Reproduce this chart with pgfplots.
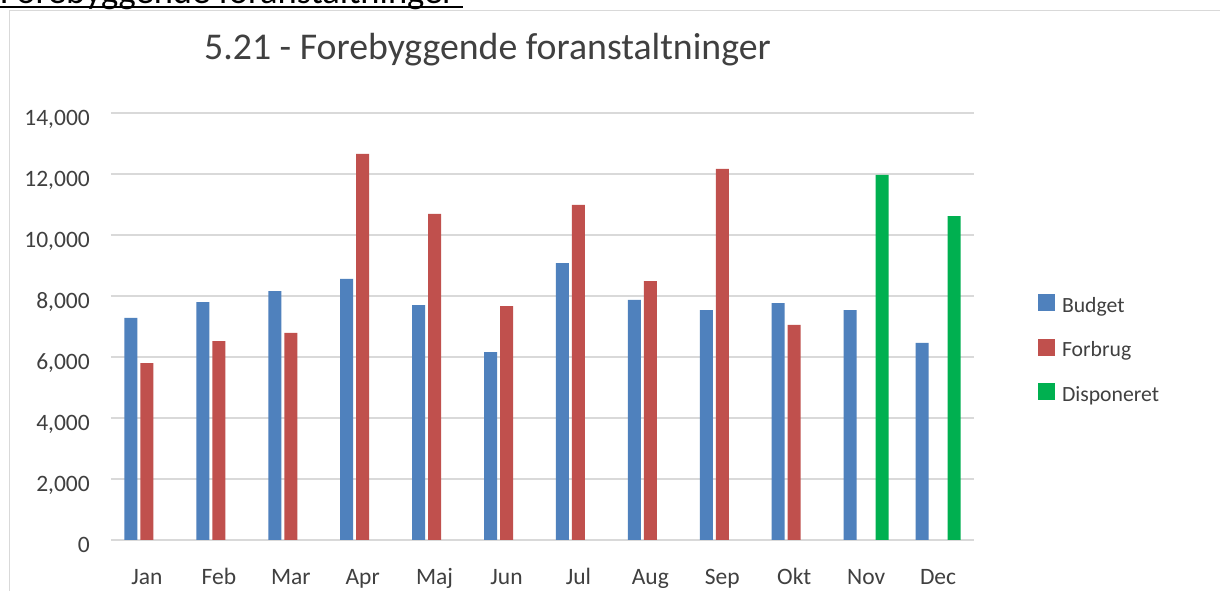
\documentclass[border=0pt]{standalone}
\usepackage{pgfplots}
\pgfplotsset{compat=1.18}
\usepackage{fontspec}
\setmainfont{Carlito}
\definecolor{cBud}{HTML}{4F81BD}
\definecolor{cFor}{HTML}{C0504D}
\definecolor{cDis}{HTML}{00B050}
\definecolor{cGrid}{HTML}{D9D9D9}
\definecolor{cTxt}{HTML}{404040}
\begin{document}
\begin{tikzpicture}[x=1pt,y=1pt]
\useasboundingbox (0,0) rectangle (1220,591);
\fill[white] (0,0) rectangle (1220,591);
\draw[cGrid, line width=1.5pt] (9.5,-5) -- (9.5,580.5) -- (1230,580.5);
\node[anchor=base west, inner sep=0pt, font=\fontsize{36.5}{40}\selectfont] at (0,587) {Forebyggende foranstaltninger};
\draw[black, line width=1.3pt] (0,584) -- (463,584);
\node[anchor=base, inner sep=0pt, text=cTxt, font=\fontsize{37.8}{42}\selectfont] at (487.5,531) {5.21 - Forebyggende foranstaltninger};
\begin{axis}[
  at={(111pt,51pt)}, anchor=south west, scale only axis,
  width=863pt, height=427pt,
  xmin=-0.5, xmax=11.5, ymin=0, ymax=14000,
  ybar=3pt, bar width=13pt,
  axis line style={draw=none}, major tick length=0pt,
  ymajorgrids, grid style={cGrid, line width=1.5pt},
  ytick={0,2000,...,14000},
  xtick={0,...,11},
  xticklabels={Jan,Feb,Mar,Apr,Maj,Jun,Jul,Aug,Sep,Okt,Nov,Dec},
  scaled y ticks=false,
  /pgf/number format/1000 sep={,},
  /pgf/number format/assume math mode=true,
  ticklabel style={font=\fontsize{23.5}{27}\selectfont, text=cTxt, inner sep=0pt},
  yticklabel style={anchor=base east, xshift=-21pt, yshift=-12.5pt},
  xticklabel style={anchor=base, yshift=-45pt},
  legend image code/.code={\fill[#1] (0pt,-4.5pt) rectangle (17pt,12.5pt);},
  legend cell align=left,
  legend style={at={(1.0742,0.5755)}, anchor=north west, draw=none, fill=none,
    inner sep=0pt, outer sep=0pt, row sep=21.4pt, column sep=7pt,
    nodes={inner sep=0pt, text height=16pt, text depth=5pt, text=cTxt,
      font=\fontsize{21.7}{26}\selectfont}},
]
\addplot[fill=cBud, draw=none] coordinates {
 (0,7280) (1,7800) (2,8160) (3,8560) (4,7700) (5,6160)
 (6,9080) (7,7870) (8,7540) (9,7770) (10,7540) (11,6460)};
\addplot[fill=cFor, draw=none] coordinates {
 (0,5800) (1,6520) (2,6790) (3,12660) (4,10690) (5,7670)
 (6,10990) (7,8490) (8,12170) (9,7050)};
\addplot[fill=cDis, draw=none] coordinates {
 (10,11970) (11,10620)};
\legend{Budget,Forbrug,Disponeret}
\end{axis}
\end{tikzpicture}
\end{document}
